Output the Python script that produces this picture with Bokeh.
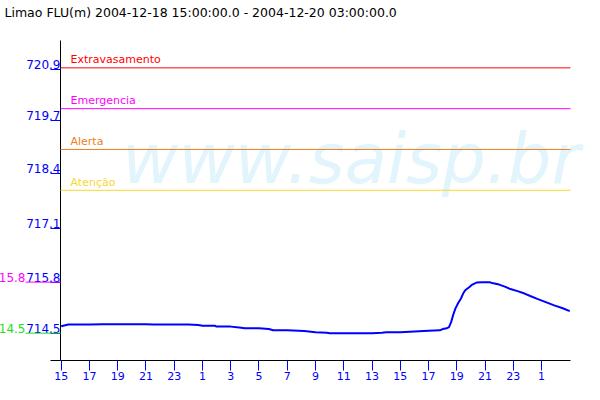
from bokeh.plotting import figure
from bokeh.models import FixedTicker, Range1d, ColumnDataSource
from bokeh.core.properties import value
from bokeh.embed import file_html
from bokeh.resources import INLINE
import math

title_text = "Limao FLU(m) 2004-12-18 15:00:00.0 - 2004-12-20 03:00:00.0"

# hours since 2004-12-18 15:00
hours = [0, 0.5, 1, 2, 3, 4, 5, 6, 6.5, 7, 8, 9, 9.7, 10, 10.9, 11, 12, 12.6, 13, 14,
         14.7, 15, 16, 17.2, 18, 18.8, 19, 20, 21, 22, 22.7, 23, 24, 25, 26, 26.8, 27.0,
         27.3, 27.45, 27.6, 27.75, 27.9, 28.1, 28.3, 28.45, 28.6, 28.9, 29.1, 29.4, 29.8,
         30.3, 30.5, 31.0, 31.4, 31.8, 32.3, 32.8, 33.2, 33.7, 34.3, 34.9, 35.5, 36.0]
level = [714.67, 714.71, 714.71, 714.71, 714.72, 714.72, 714.72, 714.72, 714.71, 714.71,
         714.71, 714.71, 714.70, 714.68, 714.68, 714.66, 714.66, 714.64, 714.62, 714.62,
         714.60, 714.57, 714.57, 714.55, 714.52, 714.51, 714.50, 714.50, 714.50, 714.50,
         714.51, 714.52, 714.52, 714.54, 714.56, 714.57, 714.60, 714.62, 714.65, 714.77,
         714.95, 715.10, 715.24, 715.35, 715.47, 715.55, 715.63, 715.69, 715.74, 715.75,
         715.75, 715.73, 715.69, 715.64, 715.58, 715.53, 715.47, 715.41, 715.34, 715.26,
         715.18, 715.11, 715.04]

x_ticks = [0, 2, 4, 6, 8, 10, 12, 14, 16, 18, 20, 22, 24, 26, 28, 30, 32, 34]
x_tick_labels = ["15", "17", "19", "21", "23", "1", "3", "5", "7", "9",
                 "11", "13", "15", "17", "19", "21", "23", "1"]
y_ticks = [714.50, 715.75, 717.06, 718.41, 719.71, 720.95]
y_tick_labels = ["714.5", "715.8", "717.1", "718.4", "719.7", "720.9"]

thr_names = ["Extravasamento", "Emergencia", "Alerta", "Atenção"]
thr_values = [721.0, 720.0, 719.0, 718.0]
thr_colors = ["#ff0000", "#ff00ff", "#f0801e", "#f8d830"]

max_label = "15.8"
min_label = "14.5"
watermark = "www.saisp.br"

BLUE = "#0000ff"
FONT = "DejaVu Sans"

x_start, x_end = -0.05, 36.05
y_start, y_end = 713.83, 721.67

p = figure(width=592, height=392, output_backend="svg", toolbar_location=None,
           x_range=Range1d(x_start, x_end), y_range=Range1d(y_start, y_end),
           min_border_left=60, min_border_right=22, min_border_top=40, min_border_bottom=32)
p.outline_line_color = None
p.xgrid.visible = False
p.ygrid.visible = False
p.background_fill_color = "white"
p.border_fill_color = "white"

# title (text glyph above the frame)
p.text(x=[x_start], y=[y_end], text=[title_text], x_offset=-56, y_offset=-28,
       text_align="left", text_baseline="middle", text_color="black",
       text_font=value(FONT), text_font_size="12.5px", level="overlay")

# series
p.line(hours, level, line_color=BLUE, line_width=2)

# watermark (unclipped, drawn before threshold lines)
p.text(x=[4.3], y=[718.19], text=[watermark], text_font=value(FONT), text_font_style="italic",
       text_font_size="69px", text_color="#e2f4fc", text_baseline="middle", y_offset=-24,
       text_align="left", level="overlay")

# thresholds
thr_src = ColumnDataSource(dict(x0=[x_start] * len(thr_values), x1=[x_end] * len(thr_values),
                                y=thr_values, t=thr_names, c=thr_colors))
p.segment(x0="x0", x1="x1", y0="y", y1="y", line_color="c", line_width=1,
          source=thr_src, level="overlay")
p.text(x="x0", y="y", text="t", text_color="c", source=thr_src, x_offset=10, y_offset=-8,
       text_baseline="middle", text_align="left", text_font=value(FONT),
       text_font_size="11px", level="overlay")

# axes
p.xaxis.ticker = FixedTicker(ticks=x_ticks)
p.xaxis.major_label_overrides = {t: l for t, l in zip(x_ticks, x_tick_labels)}
p.yaxis.ticker = FixedTicker(ticks=y_ticks)
p.yaxis.major_label_overrides = {t: "" for t in y_ticks}
for ax in (p.xaxis, p.yaxis):
    ax.axis_line_color = "black"
    ax.axis_line_width = 1
    ax.major_tick_line_color = BLUE
    ax.major_tick_out = 10
    ax.major_tick_in = 0
    ax.minor_tick_line_color = None
    ax.major_label_text_color = BLUE
    ax.major_label_text_font = FONT
    ax.major_label_text_font_size = "11px"
    ax.major_label_standoff = 1

# x axis line extends a little left of the y axis
p.ray(x=[x_start], y=[y_start], length=10, length_units="screen", angle=math.pi,
      line_color="black", line_width=1, level="overlay")

# y tick labels
ysrc = ColumnDataSource(dict(x=[x_start] * len(y_ticks), y=y_ticks, t=y_tick_labels))
p.text(x="x", y="y", text="t", source=ysrc, text_align="right", text_baseline="middle",
       y_offset=-5, text_color=BLUE, text_font=value(FONT), text_font_size="12px",
       level="overlay")

# max / min markers
vmax, vmin = max(level), min(level)
p.ray(x=[x_start], y=[vmax], length=35, length_units="screen", angle=math.pi,
      line_color="#ff00ff", line_width=1, level="overlay")
p.ray(x=[x_start], y=[vmin], length=35, length_units="screen", angle=math.pi,
      line_color="#22dd22", line_width=1, level="overlay")
p.text(x=[x_start], y=[vmax], text=[max_label], x_offset=-35, y_offset=-5, text_align="right",
       text_baseline="middle", text_color="#ff00ff", text_font=value(FONT),
       text_font_size="12px", level="overlay")
p.text(x=[x_start], y=[vmin], text=[min_label], x_offset=-35, y_offset=-5, text_align="right",
       text_baseline="middle", text_color="#22dd22", text_font=value(FONT),
       text_font_size="12px", level="overlay")

open("out.html", "w").write(file_html(p, INLINE))
